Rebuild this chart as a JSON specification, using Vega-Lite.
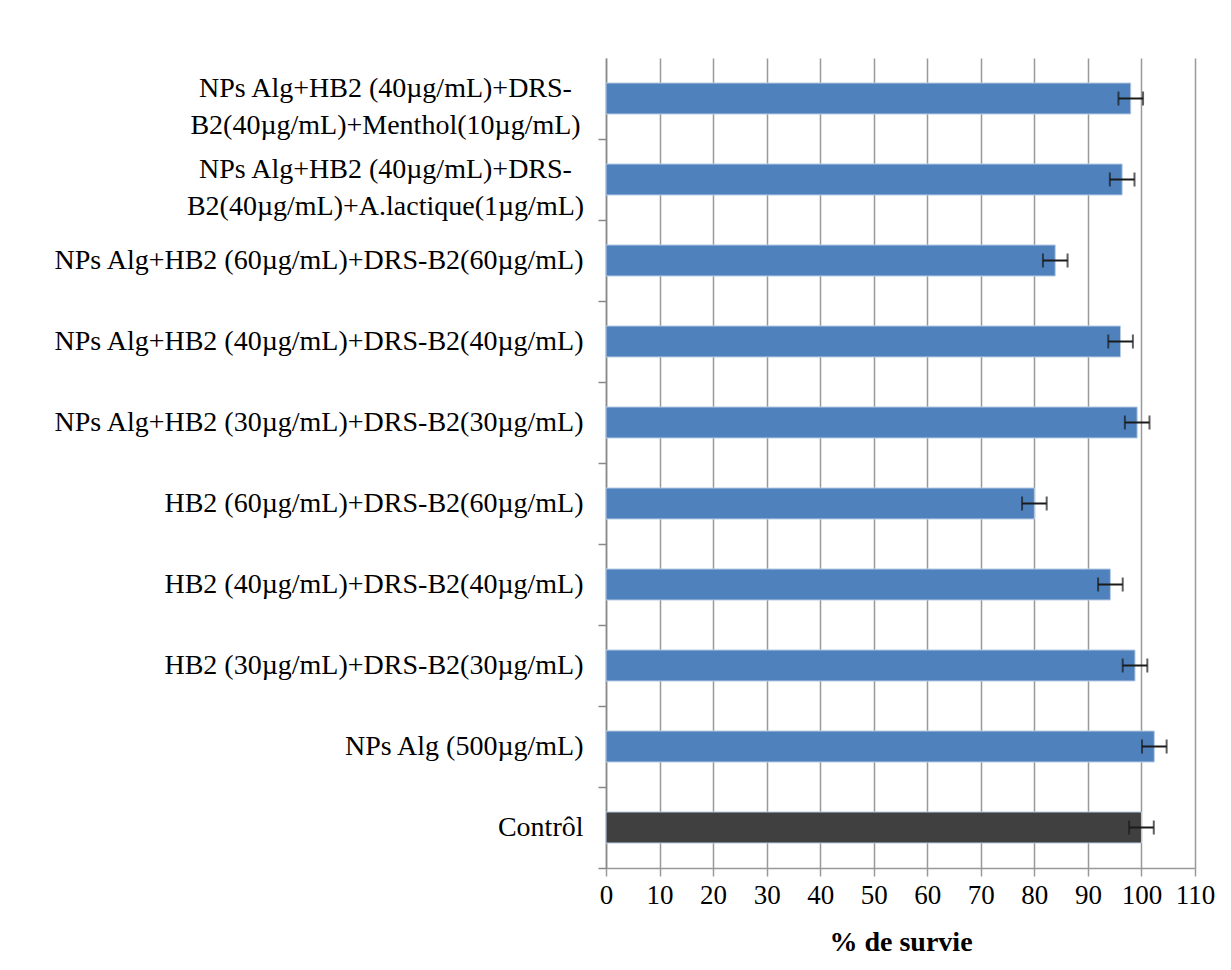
{
  "$schema": "https://vega.github.io/schema/vega-lite/v6.json",
  "autosize": "none",
  "width": 589,
  "height": 810,
  "padding": {"left": 606, "top": 58, "right": 36, "bottom": 102},
  "background": "white",
  "data": {
    "values": [
      {"cat": "NPs Alg+HB2 (40µg/mL)+DRS-|B2(40µg/mL)+Menthol(10µg/mL)", "value": 98.0, "err": 2.3, "grp": "t"},
      {"cat": "NPs Alg+HB2 (40µg/mL)+DRS-|B2(40µg/mL)+A.lactique(1µg/mL)", "value": 96.4, "err": 2.3, "grp": "t"},
      {"cat": "NPs Alg+HB2 (60µg/mL)+DRS-B2(60µg/mL)", "value": 83.9, "err": 2.3, "grp": "t"},
      {"cat": "NPs Alg+HB2 (40µg/mL)+DRS-B2(40µg/mL)", "value": 96.1, "err": 2.3, "grp": "t"},
      {"cat": "NPs Alg+HB2 (30µg/mL)+DRS-B2(30µg/mL)", "value": 99.2, "err": 2.3, "grp": "t"},
      {"cat": "HB2 (60µg/mL)+DRS-B2(60µg/mL)", "value": 80.0, "err": 2.3, "grp": "t"},
      {"cat": "HB2 (40µg/mL)+DRS-B2(40µg/mL)", "value": 94.2, "err": 2.3, "grp": "t"},
      {"cat": "HB2 (30µg/mL)+DRS-B2(30µg/mL)", "value": 98.8, "err": 2.3, "grp": "t"},
      {"cat": "NPs Alg (500µg/mL)", "value": 102.4, "err": 2.3, "grp": "t"},
      {"cat": "Contrôl", "value": 100.0, "err": 2.3, "grp": "c"}
    ]
  },
  "encoding": {
    "y": {
      "field": "cat",
      "type": "nominal",
      "sort": null,
      "scale": {"paddingInner": 0.617, "paddingOuter": 0.3085},
      "axis": {
        "title": null,
        "labelExpr": "split(datum.label, '|')",
        "labelFont": "Liberation Serif",
        "labelFontSize": 28,
        "labelColor": "#000000",
        "labelLineHeight": 37,
        "labelAlign": {"expr": "indexof(datum.value, '|') >= 0 ? 'center' : 'right'"},
        "labelPadding": {"expr": "indexof(datum.value, '|') >= 0 ? 213 : 15"},
        "labelOffset": {"expr": "indexof(datum.value, '|') >= 0 ? -50.5 : -40.5"},
        "labelLimit": 0,
        "labelOverlap": false,
        "tickOffset": 40.5,
        "tickSize": 8,
        "tickColor": "#888888",
        "tickWidth": 1.5,
        "domainColor": "#888888",
        "domainWidth": 1.5,
        "grid": false
      }
    }
  },
  "layer": [
    {
      "mark": {"type": "bar", "stroke": "#B9CDE5", "strokeWidth": 1},
      "encoding": {
        "x": {
          "field": "value",
          "type": "quantitative",
          "title": "% de survie",
          "scale": {"domain": [0, 110], "nice": false},
          "axis": {
            "values": [0, 10, 20, 30, 40, 50, 60, 70, 80, 90, 100, 110],
            "labelOverlap": false,
            "labelFlush": false,
            "titleFont": "Liberation Serif",
            "titleFontSize": 28,
            "titleFontWeight": "bold",
            "titleColor": "#000000",
            "titlePadding": 20,
            "labelFont": "Liberation Serif",
            "labelFontSize": 27,
            "labelColor": "#000000",
            "labelPadding": 6,
            "tickSize": 8,
            "tickColor": "#999999",
            "tickWidth": 1.5,
            "domainColor": "#999999",
            "domainWidth": 1.5,
            "grid": true,
            "gridColor": "#999999",
            "gridWidth": 1.5
          }
        },
        "color": {
          "field": "grp",
          "type": "nominal",
          "scale": {"domain": ["t", "c"], "range": ["#4F81BD", "#404040"]},
          "legend": null
        }
      }
    },
    {
      "mark": {
        "type": "errorbar",
        "ticks": {"size": 14, "thickness": 2, "color": "#1a1a1a"},
        "rule": {"strokeWidth": 2, "color": "#1a1a1a"}
      },
      "encoding": {
        "x": {"field": "value", "type": "quantitative", "title": "% de survie"},
        "xError": {"field": "err"}
      }
    }
  ],
  "config": {"view": {"stroke": null}}
}
